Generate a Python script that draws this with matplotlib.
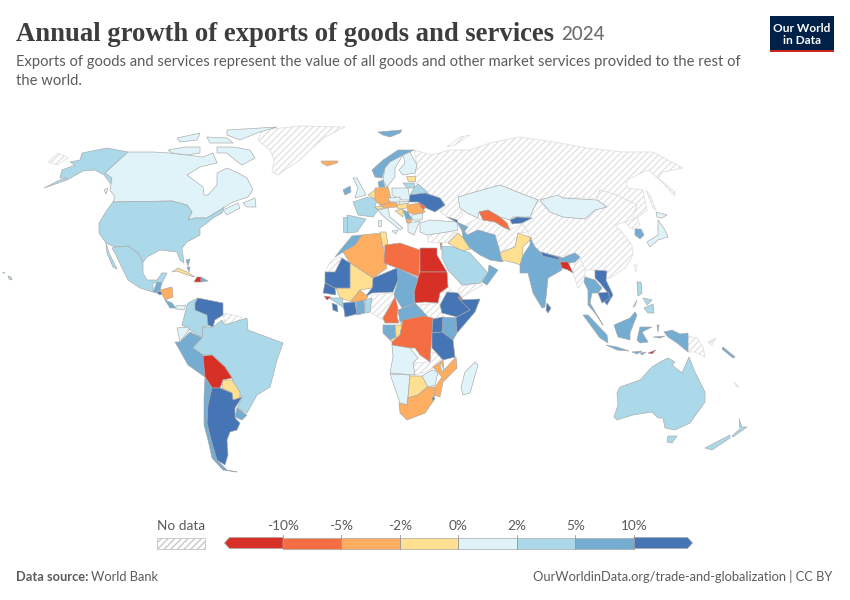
import numpy as np
import matplotlib
matplotlib.use('Agg')
import matplotlib.pyplot as plt
from matplotlib.patches import Polygon, Rectangle
from matplotlib.colors import ListedColormap, BoundaryNorm

plt.rcParams['font.family'] = ['Lato', 'DejaVu Sans']
plt.rcParams['hatch.linewidth'] = 0.9

# legend bins
bin_edges = [-10, -5, -2, 0, 2, 5, 10]
bin_labels = ['-10%', '-5%', '-2%', '0%', '2%', '5%', '10%']
bin_colors = ['#d73027', '#f46d43', '#fdae61', '#fee090', '#e0f3f8', '#abd9e9', '#74add1', '#4575b4']

# export growth 2024, % (read off the colour bins), missing country = no data
growth = {
    'Alaska': 3.5, 'USA': 3.5, 'Canada': 1.0, 'Mexico': 3.0, 'Guatemala': 6.0, 'El Salvador': 12.0,
    'Nicaragua': -3.0, 'Costa Rica': 7.0, 'Panama': 1.0, 'Cuba': -1.0, 'Haiti': -15.0, 'Dominican Rep': 6.0,
    'Bahamas': 7.0, 'Hawaii': 3.5, 'Iceland': -3.0, 'Svalbard': 7.0, 'Norway': 6.0, 'Sweden': 1.0,
    'Finland': 1.0, 'Denmark': 7.0, 'UK': 1.0, 'Ireland': 8.0, 'France': 3.0, 'Spain': 3.0, 'Portugal': 3.5,
    'Belgium': -1.0, 'Germany': -3.0, 'Poland': 1.0, 'Estonia': -1.0, 'Latvia': 3.0, 'Belarus': 3.0,
    'Ukraine': 12.0, 'Czechia': 1.0, 'Austria': -3.0, 'Hungary': -1.0, 'Slovakia': 1.0, 'Switzerland': -1.0,
    'Italy': 1.0, 'Sicily': 1.0, 'Sardinia': 1.0, 'Romania': -3.0, 'Moldova': -7.0, 'Bulgaria': 1.0,
    'Serbia': 7.0, 'Croatia': -1.0, 'Greece': 1.0, 'Albania': -3.0, 'Turkey': 1.0,
    'Georgia': 12.0, 'Azerbaijan': 7.0, 'Kazakhstan': 1.0, 'Uzbekistan': -7.0, 'Kyrgyzstan': 12.0, 'Iran': 7.0, 'Pakistan': -1.0,
    'Iraq': -1.0, 'Israel': -7.0, 'Saudi Arabia': 3.0, 'Oman': 7.0, 'Morocco': 7.0, 'Algeria': -3.0,
    'Tunisia': -1.0, 'Libya': -7.0, 'Egypt': -15.0, 'Sudan': -15.0, 'Chad': 7.0, 'CAR': 7.0, 'Niger': 12.0,
    'Mali': -1.0, 'Mauritania': 12.0, 'Senegal': 12.0, 'Guinea-Bissau': -15.0, 'Guinea': 3.0,
    'Burkina Faso': -3.0, 'Liberia': 12.0, 'Ivory Coast': 12.0, 'Ghana': 7.0, 'Benin': 3.0, 'Cameroon': -7.0,
    'Gabon': 7.0, 'Congo': -1.0, 'DRC': -7.0, 'Ethiopia': 12.0, 'Djibouti': -7.0, 'Somalia': 12.0,
    'Kenya': 7.0, 'Uganda': 12.0, 'Tanzania': 12.0, 'Mozambique': -3.0, 'Malawi': 1.0, 'Angola': 1.0,
    'Namibia': 1.0, 'Botswana': -1.0, 'Zimbabwe': 1.0, 'South Africa': -3.0, 'Eswatini': 12.0,
    'Madagascar': 1.0, 'Colombia': 3.0, 'Venezuela': 12.0, 'Ecuador': 1.0, 'Peru': 7.0, 'Brazil': 3.0,
    'Bolivia': -15.0, 'Paraguay': -1.0, 'Uruguay': 7.0, 'Argentina': 12.0, 'Chile': 7.0, 'India': 7.0,
    'Nepal': 12.0, 'Bangladesh': -15.0, 'Sri Lanka': 12.0, 'Mongolia': 1.0, 'South Korea': 7.0, 'Japan': 1.0,
    'Thailand': 7.0, 'Vietnam': 12.0, 'Cambodia': 12.0, 'Philippines': 3.0, 'Indonesia': 7.0,
    'Timor': -15.0, 'Solomon': 7.0, 'Australia': 3.0, 'New Zealand': 3.0,
}

outlines = {
    'Greenland': [[(262,130),(300,126),(345,127),(335,132),(325,137),(310,150),(300,160),(285,170),(278,175),(272,172),(274,160),(270,150),(258,140)]],
    'Russia': [[(414,150),(417,165),(415,173),(415,176),(415,183),(418,184),(428,193),(440,198),(445,205),(440,212),(447,217),(457,220),(463,215),(458,197),(482,190),(500,185),(520,193),(538,200),(548,198),(560,198),(597,198),(600,190),(617,195),(637,205),(632,222),(637,218),(647,210),(643,190),(627,188),(627,180),(648,170),(660,180),(675,196),(675,192),(658,178),(663,172),(683,168),(653,152),(623,152),(587,148),(560,143),(520,137),(490,143),(470,150),(450,150),(432,155)],
               [(48,162),(58,153),(68,158),(57,165)], [(447,147),(460,137),(470,135),(455,145)], [(646,190),(650,195),(656,210),(653,208)]],
    'China': [[(538,200),(550,212),(563,217),(585,219),(595,210),(607,207),(597,200),(600,190),(617,195),(637,205),(632,215),(625,222),(615,225),(622,232),(632,245),(633,255),(625,268),(610,278),(600,280),(595,270),(585,270),(580,258),(575,253),(558,257),(541,252),(535,247),(530,237),(528,232),(522,224),(532,218),(530,217),(533,210)],
              [(634,265),(637,265),(636,272)]],
    'North Korea': [[(625,222),(637,218),(640,225),(635,229),(630,228)]],
    'Turkmenistan-Afghanistan': [[(478,218),(483,220),(495,222),(503,227),(510,230),(522,224),(528,232),(518,233),(515,247),(500,252),(495,235),(478,230),(467,235),(465,225)]],
    'Syria': [[(427,235),(447,232),(457,232),(448,242),(442,243),(428,242)]],
    'Yemen': [[(462,286),(480,283),(483,285),(470,292),(463,297),(458,290)]],
    'Western Sahara': [[(338,257),(343,258),(335,272),(325,272),(330,262)]],
    'South Sudan': [[(420,305),(438,303),(440,305),(443,313),(443,317),(433,319),(428,317),(423,313)]],
    'Eritrea': [[(448,287),(458,297),(447,292),(442,293)]],
    'Nigeria': [[(372,295),(394,293),(395,300),(388,310),(383,320),(370,312)]],
    'Zambia': [[(413,363),(430,362),(433,352),(442,353),(440,365),(425,372),(415,375)]],
    'Guyana': [[(223,313),(242,317),(233,325),(225,323)]],
    'Myanmar': [[(575,262),(580,258),(585,270),(585,278),(578,288),(573,273)]],
    'PNG': [[(688,336),(697,338),(703,347),(705,357),(695,352),(688,352)], [(708,342),(716,338),(712,345)]],
    'New Caledonia': [[(734,382),(739,387),(737,387)]],
    'Alaska': [[(128,152),(105,173),(111,176),(114,186),(110,183),(104,175),(95,170),(83,171),(67,180),(44,188),(60,180),(67,178),(60,178),(62,170),(75,165),(70,162),(80,160),(82,153),(107,148)]],
    'Canada': [[(128,152),(153,152),(170,153),(187,155),(203,157),(213,153),(217,163),(200,167),(187,175),(203,187),(204,195),(208,195),(217,185),(217,173),(227,168),(238,173),(247,178),(253,190),(248,197),(233,202),(220,210),(207,218),(195,218),(188,220),(192,212),(187,205),(172,201),(113,202),(115,197),(110,190),(112,178),(105,173)],
               [(217,147),(233,147),(250,150),(255,158),(242,165),(235,160),(227,153),(217,153)], [(168,150),(185,147),(200,147),(200,153),(187,155),(172,153)],
               [(227,130),(277,127),(257,133),(240,140),(227,135)], [(177,138),(200,133),(197,140),(180,142)], [(207,137),(227,138),(233,143),(210,143)],
               [(243,203),(255,198),(256,207),(247,207)], [(223,210),(238,203),(240,208),(227,215)], [(104,190),(108,188),(106,194)]],
    'USA': [[(113,202),(172,201),(187,205),(192,212),(188,220),(195,218),(207,218),(220,210),(224,207),(222,213),(213,218),(207,223),(200,228),(200,235),(187,242),(182,248),(184,263),(180,260),(177,252),(160,250),(147,257),(143,262),(138,253),(128,246),(115,247),(106,243),(99,233),(99,223),(107,210)]],
    'Hawaii': [[(2,272),(4,272),(4,273)], [(8,276),(11,277),(12,280),(9,279)]],
    'Mexico': [[(115,247),(128,246),(138,253),(143,262),(143,273),(147,280),(157,280),(162,273),(167,273),(162,283),(153,283),(153,292),(140,288),(128,280),(123,270),(115,253),(112,248)],
               [(106,243),(109,253),(117,269),(113,267),(107,253)]],
    'Guatemala': [[(153,292),(157,282),(162,283),(160,290),(157,293)]],
    'El Salvador': [[(157,293),(160,291),(164,293),(160,295)]],
    'Nicaragua': [[(160,290),(172,287),(173,297),(165,300)]],
    'Costa Rica': [[(165,300),(172,303),(176,308),(170,308)]],
    'Panama': [[(176,306),(186,305),(184,310),(176,309)]],
    'Cuba': [[(172,272),(178,268),(187,272),(195,277),(187,275),(177,271)]],
    'Haiti': [[(194,282),(197,277),(201,277),(201,282)]],
    'Dominican Rep': [[(201,277),(208,281),(201,282)]],
    'Bahamas': [[(186,260),(190,259),(188,266)], [(187,267),(190,267),(189,272)]],
    'Iceland': [[(321,161),(338,161),(337,163),(327,166),(322,163)]],
    'Svalbard': [[(378,132),(402,130),(400,133),(390,137),(383,135)]],
    'Norway': [[(372,170),(383,160),(398,150),(414,150),(403,155),(390,162),(385,168),(382,178),(375,177)]],
    'Sweden': [[(385,168),(390,162),(403,155),(395,168),(395,177),(387,187),(383,180)]],
    'Finland': [[(403,155),(410,152),(417,165),(415,173),(403,175),(399,170),(405,163)]],
    'Denmark': [[(378,182),(383,180),(385,187),(379,187)]],
    'UK': [[(353,178),(357,178),(366,195),(355,198),(358,188)]],
    'Ireland': [[(343,190),(350,186),(351,192),(345,195)]],
    'France': [[(353,202),(368,197),(377,200),(375,207),(378,210),(373,217),(358,215)]],
    'Spain': [[(347,215),(366,219),(357,232),(347,233)]],
    'Portugal': [[(343,217),(347,217),(347,232),(343,232)]],
    'Belgium': [[(368,195),(375,190),(377,200)]],
    'Germany': [[(375,188),(388,187),(392,202),(380,205),(375,200)]],
    'Poland': [[(392,188),(408,188),(410,200),(402,200),(392,195)]],
    'Estonia': [[(406,176),(415,176),(415,181),(408,181)]],
    'Latvia': [[(403,183),(414,183),(415,188),(407,188)]],
    'Belarus': [[(414,188),(418,184),(428,193),(425,195),(410,195)]],
    'Ukraine': [[(410,195),(425,193),(440,198),(445,205),(435,212),(426,208),(418,202),(409,202)]],
    'Czechia': [[(388,198),(400,197),(400,202),(390,202)]],
    'Austria': [[(380,205),(392,202),(397,203),(397,207),(383,208)]],
    'Slovakia': [[(400,202),(409,201),(408,204),(398,205)]],
    'Hungary': [[(397,205),(408,203),(407,208),(398,209)]],
    'Switzerland': [[(375,207),(383,206),(383,209),(377,209)]],
    'Italy': [[(378,210),(388,208),(390,217),(403,228),(400,230),(382,215)]],
    'Sicily': [[(392,231),(398,230),(396,234)]],
    'Sardinia': [[(378,220),(381,220),(381,226),(378,226)]],
    'Romania': [[(407,205),(420,203),(425,212),(415,215),(408,212)]],
    'Moldova': [[(418,202),(426,207),(423,210)]],
    'Bulgaria': [[(412,215),(423,213),(422,220),(412,220)]],
    'Serbia': [[(403,210),(408,212),(412,219),(406,219)]],
    'Croatia': [[(395,211),(403,209),(403,217),(398,213)]],
    'Greece': [[(408,223),(420,221),(414,235),(408,232)]],
    'Albania': [[(406,219),(412,220),(410,223),(407,223)]],
    'Turkey': [[(420,223),(430,220),(457,222),(458,230),(447,232),(427,235),(420,232)]],
    'Georgia': [[(447,217),(457,220),(458,223)]],
    'Azerbaijan': [[(457,222),(468,227),(463,233)]],
    'Kazakhstan': [[(458,197),(482,190),(500,185),(520,193),(538,200),(533,210),(530,217),(513,217),(510,220),(500,217),(488,210),(479,212),(478,218),(467,213),(460,208)]],
    'Uzbekistan': [[(479,212),(488,210),(500,217),(507,223),(510,230),(503,227),(495,222),(483,220)]],
    'Kyrgyzstan': [[(510,220),(517,217),(532,218),(522,223),(512,224)]],
    'Iran': [[(462,228),(467,235),(478,230),(495,235),(500,252),(503,262),(490,260),(480,255),(470,248),(463,238)]],
    'Pakistan': [[(518,233),(532,238),(523,247),(522,266),(515,263),(502,260),(500,253),(515,247)]],
    'Iraq': [[(458,233),(463,238),(470,249),(462,251),(448,243)]],
    'Israel': [[(440,243),(442,243),(441,250)]],
    'Saudi Arabia': [[(442,246),(453,247),(470,253),(478,262),(488,273),(480,283),(462,285),(448,270),(442,258)]],
    'Oman': [[(489,265),(498,270),(487,285),(482,282),(488,273)]],
    'Morocco': [[(352,236),(362,235),(355,245),(343,252),(335,257),(342,248)]],
    'Algeria': [[(343,252),(355,245),(362,235),(382,233),(383,247),(387,268),(373,278),(350,263)]],
    'Tunisia': [[(380,232),(386,232),(388,245),(383,248)]],
    'Libya': [[(385,245),(400,243),(420,250),(419,277),(397,268),(384,263)]],
    'Egypt': [[(420,248),(437,248),(437,255),(447,272),(420,272)]],
    'Sudan': [[(420,272),(447,272),(448,287),(440,293),(438,303),(425,302),(415,303),(414,292),(418,278)]],
    'Chad': [[(397,268),(418,278),(414,292),(415,303),(402,308),(394,295),(398,280)]],
    'CAR': [[(398,310),(415,303),(428,317),(408,320),(400,322)]],
    'Niger': [[(373,278),(397,268),(398,280),(393,292),(372,293),(365,297),(372,288)]],
    'Mali': [[(350,263),(373,278),(372,288),(360,290),(352,302),(340,298),(336,288),(350,288)]],
    'Mauritania': [[(325,272),(335,272),(342,258),(350,263),(350,288),(335,288),(325,283)]],
    'Senegal': [[(325,283),(335,288),(336,295),(323,293)]],
    'Guinea-Bissau': [[(324,296),(331,297),(327,300)]],
    'Guinea': [[(329,298),(342,298),(344,308),(337,303)]],
    'Burkina Faso': [[(351,301),(360,290),(368,297),(363,302),(355,302)]],
    'Liberia': [[(332,303),(337,305),(338,312),(333,310)]],
    'Ivory Coast': [[(343,303),(355,302),(357,314),(345,317)]],
    'Ghana': [[(356,302),(364,300),(365,313),(357,315)]],
    'Benin': [[(365,300),(372,298),(370,312),(366,313)]],
    'Cameroon': [[(395,297),(398,308),(397,317),(399,323),(385,323),(383,318)]],
    'Gabon': [[(383,325),(395,325),(396,337),(390,340),(383,333)]],
    'Congo': [[(403,320),(400,335),(392,342),(390,340),(396,337),(395,325),(400,325)]],
    'DRC': [[(403,320),(423,316),(433,318),(432,333),(430,362),(420,355),(415,348),(402,348),(392,345),(392,342),(400,335)]],
    'Ethiopia': [[(440,305),(447,292),(458,293),(470,310),(457,317),(442,313)]],
    'Djibouti': [[(458,297),(462,297),(460,300)]],
    'Somalia': [[(460,300),(480,299),(475,312),(457,333),(455,318),(470,310)]],
    'Kenya': [[(443,317),(456,318),(457,333),(453,340),(442,332)]],
    'Uganda': [[(433,319),(443,317),(442,332),(432,333)]],
    'Tanzania': [[(432,333),(442,332),(453,340),(455,357),(443,360),(432,348)]],
    'Mozambique': [[(456,357),(457,368),(443,382),(440,397),(434,395),(435,387),(442,377),(433,367),(443,360),(444,370)]],
    'Malawi': [[(441,362),(444,370),(442,372),(440,366)]],
    'Angola': [[(392,345),(410,348),(418,358),(413,363),(415,375),(390,373),(393,357)]],
    'Namibia': [[(390,374),(410,375),(408,397),(407,405),(400,403)]],
    'Botswana': [[(410,376),(422,376),(428,386),(418,395),(408,398)]],
    'Zimbabwe': [[(422,376),(432,370),(438,372),(435,385),(428,387)]],
    'South Africa': [[(408,398),(418,395),(428,387),(435,387),(434,400),(425,413),(407,420),(400,413),(399,403),(407,405)]],
    'Eswatini': [[(432,397),(435,398),(433,401)]],
    'Madagascar': [[(475,362),(478,365),(470,393),(463,395),(461,387),(465,372)]],
    'Colombia': [[(188,303),(198,298),(195,305),(207,315),(210,325),(203,327),(202,338),(190,330),(182,325),(185,313)]],
    'Venezuela': [[(198,298),(223,303),(223,315),(215,320),(213,327),(208,325),(207,315),(195,310),(195,303)]],
    'Ecuador': [[(177,328),(188,327),(189,330),(180,342)]],
    'Peru': [[(180,342),(190,332),(202,338),(193,347),(203,355),(205,377),(188,365),(175,342)]],
    'Brazil': [[(203,327),(213,327),(222,320),(225,325),(247,318),(248,330),(283,343),(277,360),(270,387),(257,395),(247,413),(237,408),(242,397),(233,387),(232,377),(225,367),(212,355),(203,355),(193,348),(202,338)]],
    'Bolivia': [[(203,356),(212,355),(225,367),(232,378),(223,380),(220,388),(212,388),(205,377)]],
    'Paraguay': [[(223,380),(232,380),(240,392),(240,400),(233,400),(232,393),(222,388)]],
    'Uruguay': [[(237,408),(247,415),(242,420),(235,417)]],
    'Chile': [[(205,377),(212,388),(208,405),(207,423),(212,443),(217,460),(227,470),(237,472),(223,470),(212,458),(208,440),(204,425),(204,397)]],
    'Argentina': [[(212,388),(220,388),(232,393),(233,400),(242,397),(235,408),(235,418),(240,423),(237,430),(230,432),(227,440),(228,455),(225,465),(217,460),(212,443),(207,423),(208,405)]],
    'India': [[(530,238),(535,247),(540,252),(560,257),(562,258),(575,253),(580,257),(575,262),(570,263),(563,265),(560,260),(562,270),(548,278),(545,307),(542,308),(533,293),(528,273),(520,273),(520,265),(522,258),(525,252),(530,245)]],
    'Nepal': [[(541,252),(558,257),(560,260),(543,256)]],
    'Bangladesh': [[(560,262),(568,262),(573,273),(568,270),(562,268)]],
    'Sri Lanka': [[(547,303),(551,308),(548,313),(546,310)]],
    'Mongolia': [[(540,200),(558,195),(563,198),(597,200),(607,207),(595,210),(585,219),(563,217),(550,212)]],
    'South Korea': [[(635,229),(641,229),(644,235),(640,239),(635,235)]],
    'Japan': [[(658,220),(665,230),(668,237),(658,240),(650,247),(647,242),(658,235)], [(656,212),(667,215),(662,218),(657,217)]],
    'Thailand': [[(585,277),(595,280),(602,288),(598,293),(592,293),(590,303),(600,320),(603,325),(595,313),(588,305),(588,290),(584,282)]],
    'Vietnam': [[(595,270),(607,271),(606,280),(613,295),(607,305),(603,300),(608,293),(600,283),(595,278)]],
    'Cambodia': [[(598,293),(608,292),(610,298),(602,303)]],
    'Philippines': [[(637,282),(641,282),(642,293),(638,296)], [(643,298),(652,300),(647,305)], [(644,308),(653,304),(654,313),(648,313)], [(633,307),(637,300),(635,306)]],
    'Indonesia': [[(583,315),(588,315),(607,335),(608,343),(600,338)], [(606,345),(617,347),(629,351),(617,350)], [(614,325),(630,318),(635,312),(637,315),(630,333),(630,340),(618,337)],
                  [(637,340),(640,327),(652,327),(642,332),(648,342),(640,343)], [(664,332),(672,330),(680,334),(688,333),(688,352),(677,343),(668,337)],
                  [(657,325),(659,325),(658,332)], [(653,337),(665,336),(660,338)], [(632,352),(642,351),(637,354)], [(640,353),(646,352),(642,355)]],
    'Timor': [[(648,353),(656,350),(652,354)]],
    'Solomon': [[(723,347),(735,357),(733,358),(722,349)]],
    'Australia': [[(668,358),(675,362),(672,365),(682,373),(689,357),(695,372),(705,392),(705,402),(690,423),(675,430),(665,428),(663,418),(658,418),(652,412),(633,415),(617,420),(614,417),(618,405),(617,393),(620,387),(640,380),(652,367),(660,362)],
                  [(668,436),(677,436),(672,443),(667,442)]],
    'New Zealand': [[(739,419),(742,427),(747,427),(733,437),(732,436),(740,429)], [(730,435),(730,438),(712,450),(705,448)]],
}

cmap = ListedColormap(bin_colors)
norm = BoundaryNorm([-100] + bin_edges + [100], cmap.N)

fig = plt.figure(figsize=(8.5, 6), dpi=100)
ax = fig.add_axes([0, 0, 1, 1])
ax.set_xlim(0, 850)
ax.set_ylim(600, 0)
ax.axis('off')

# no data countries first, then the coloured ones on top
for name, rings in outlines.items():
    if name not in growth:
        for ring in rings:
            ax.add_patch(Polygon(ring, closed=True, facecolor='white', edgecolor='#e0e0e0', hatch='/////', linewidth=0.6))
for name, rings in outlines.items():
    if name in growth:
        for ring in rings:
            ax.add_patch(Polygon(ring, closed=True, facecolor=cmap(norm(growth[name])), edgecolor='#a8a8a8', linewidth=0.45, joinstyle='round'))

# title block
ax.text(16, 41, 'Annual growth of exports of goods and services', family='Liberation Serif', fontweight='bold', fontsize=19.2, color='#3d3d3d')
ax.text(561, 40, '2024', fontsize=13.5, color='#6e6e6e', fontweight='medium')
ax.text(16, 66, 'Exports of goods and services represent the value of all goods and other market services provided to the rest of', fontsize=10.67, color='#5b5b5b')
ax.text(16, 85, 'the world.', fontsize=10.67, color='#5b5b5b')

# logo
ax.add_patch(Rectangle((770, 16), 64, 36, facecolor='#002147', edgecolor='none'))
ax.add_patch(Rectangle((770, 49.5), 64, 2.5, facecolor='#ce261e', edgecolor='none'))
ax.text(802, 32, 'Our World', color='white', fontsize=8.6, fontweight='bold', ha='center', va='baseline')
ax.text(802, 44, 'in Data', color='white', fontsize=8.6, fontweight='bold', ha='center', va='baseline')

# legend
bar_top, bar_bottom = 537.5, 548.5
x_first, step = 283, 58.5
ticks_x = [x_first + i * step for i in range(len(bin_edges))]
seg_x = [ticks_x[0] - step] + ticks_x + [ticks_x[-1] + step]
mid = (bar_top + bar_bottom) / 2
for i, col in enumerate(bin_colors):
    x0, x1 = seg_x[i], seg_x[i + 1]
    if i == 0:
        pts = [(x0 + 5, bar_top), (x1, bar_top), (x1, bar_bottom), (x0 + 5, bar_bottom), (x0, mid)]
    elif i == len(bin_colors) - 1:
        pts = [(x0, bar_top), (x1 - 5, bar_top), (x1, mid), (x1 - 5, bar_bottom), (x0, bar_bottom)]
    else:
        pts = [(x0, bar_top), (x1, bar_top), (x1, bar_bottom), (x0, bar_bottom)]
    ax.add_patch(Polygon(pts, closed=True, facecolor=col, edgecolor='#a8a8a8', linewidth=0.5))
for x, lab in zip(ticks_x, bin_labels):
    ax.plot([x, x], [bar_top - 3, bar_bottom], color='#999999', linewidth=0.6)
    ax.text(x, 530, lab, ha='center', fontsize=9.8, color='#5b5b5b')
ax.add_patch(Rectangle((157, 537.5), 48, 11, facecolor='white', edgecolor='#c4c4c4', hatch='/////', linewidth=0.6))
ax.text(181, 530, 'No data', ha='center', fontsize=9.8, color='#5b5b5b')

# footer
ax.text(16, 581, 'Data source:', fontsize=9.3, fontweight='bold', color='#5b5b5b')
ax.text(91, 581, 'World Bank', fontsize=9.3, color='#5b5b5b')
ax.text(832, 581, 'OurWorldinData.org/trade-and-globalization | CC BY', ha='right', fontsize=9.3, color='#5b5b5b')

fig.savefig('out.png', dpi=100)
